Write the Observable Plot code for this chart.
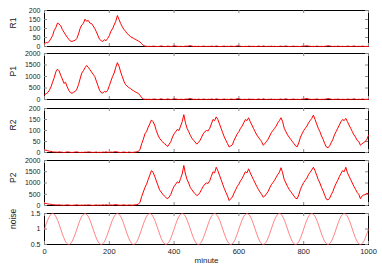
<!DOCTYPE html>
<html>
<head>
<meta charset="utf-8">
<script src="https://cdn.jsdelivr.net/npm/d3@7"></script>
<script src="https://cdn.jsdelivr.net/npm/@observablehq/plot@0.6"></script>
<style>
html,body{margin:0;padding:0;background:#fff;}
#chart{position:relative;width:382px;height:267px;overflow:hidden;}
#chart svg{position:absolute;left:0;}
</style>
</head>
<body>
<div id="chart"></div>
<script>
const xTicks = [0, 200, 400, 600, 800, 1000];
const minutes = d3.range(0, 1001, 5);
const noiseMinutes = d3.range(0, 1000.1, 12.5);

const R1 = [
15,22,20,30,45,60,90,105,130,125,
115,95,80,65,52,40,30,28,32,35,
45,70,100,120,128,152,140,145,130,128,
115,100,82,60,40,32,28,38,32,45,
60,85,98,120,140,172,150,128,110,95,
85,72,65,55,50,45,40,35,30,25,
15,6,2,1,
0,1,0,2,1,0,0,1,3,1,
0,0,2,1,0,1,4,2,1,0,
1,0,0,2,1,3,5,2,0,1,
0,1,0,0,2,1,0,1,0,2,
1,0,3,1,0,0,1,2,0,1,
0,2,1,0,1,4,3,1,0,0,
1,0,2,1,0,1,0,0,2,1,
0,3,1,0,1,0,2,0,1,0,
0,1,2,0,1,3,1,0,0,1,
2,0,1,0,0,2,1,3,4,2,
1,0,1,0,2,1,0,1,0,1,
2,4,3,1,0,1,0,2,1,0,
1,0,0,2,1,0,1,3,1,0,
1,0,2,1,0,1,0
];

const P1 = [
200,250,300,400,550,750,950,1200,1320,1250,
1050,900,700,750,550,400,300,270,320,350,
450,650,900,1150,1250,1380,1480,1400,1300,1200,
1100,1000,800,600,400,300,280,350,320,400,
600,800,1000,1150,1400,1600,1450,1200,1000,800,
650,580,520,480,420,380,330,300,260,180,
80,20,5,10,
5,10,0,15,20,5,0,10,30,10,
0,5,25,10,0,10,35,20,10,0,
10,5,0,20,10,30,45,20,5,10,
0,15,5,0,20,10,0,10,5,20,
10,0,30,10,5,0,10,20,0,10,
0,20,10,5,10,40,30,10,0,5,
10,0,20,10,5,10,0,5,20,10,
0,30,10,0,10,5,20,0,10,0,
5,10,20,0,10,30,10,0,5,10,
20,0,10,5,0,20,10,35,45,20,
10,0,10,5,20,10,0,10,5,10,
20,40,30,10,0,10,5,20,10,0,
10,5,0,20,10,5,10,30,10,0,
10,0,20,10,5,10,5
];

const R2 = [
12,10,8,6,5,3,2,2,1,3,
2,1,0,1,3,2,1,0,1,2,
3,1,0,1,0,2,1,3,2,1,
0,1,2,0,1,0,2,1,3,1,
0,2,1,3,4,2,1,0,1,2,
1,0,2,1,0,1,2,3,
5,15,40,60,85,95,115,130,148,140,
125,100,80,65,55,48,40,35,27,38,
50,70,85,95,105,100,120,140,172,135,
110,95,78,65,55,48,38,45,55,70,
85,95,100,98,110,130,150,145,162,150,
130,110,90,70,55,40,25,30,35,55,
70,85,95,110,120,135,150,145,158,140,
125,110,95,80,70,60,50,33,40,50,
60,75,90,100,110,120,135,145,158,140,
110,95,80,70,60,50,40,30,26,45,
70,85,100,110,120,135,145,155,170,150,
130,110,95,75,60,40,25,21,30,45,
60,80,95,110,125,140,150,145,155,140,
125,110,95,80,70,55,50,33,40,45,
50,60,78
];

const P2 = [
100,90,70,60,50,40,30,25,20,30,
20,15,10,20,30,20,10,5,15,20,
30,15,10,20,10,25,15,30,20,10,
5,15,25,10,20,10,30,15,35,20,
10,25,15,30,45,25,15,10,20,30,
15,10,25,20,10,20,30,40,
60,150,400,600,800,950,1150,1350,1550,1480,
1300,1100,900,700,600,500,420,350,300,380,
500,700,850,950,1050,1000,1200,1400,1780,1400,
1150,1000,800,700,600,520,440,480,580,720,
850,950,1000,980,1100,1300,1500,1450,1700,1550,
1350,1150,950,750,580,420,220,300,380,550,
700,850,950,1100,1200,1350,1500,1450,1630,1450,
1300,1150,1000,850,720,600,500,370,420,520,
620,780,920,1020,1120,1250,1380,1480,1680,1450,
1150,1000,850,720,620,520,420,320,300,480,
720,880,1020,1120,1220,1380,1480,1580,1700,1550,
1350,1150,1000,800,650,450,280,250,320,480,
620,820,980,1120,1280,1420,1550,1500,1700,1450,
1300,1150,1000,850,720,580,500,300,420,470,
480,550,500
];

const noise = [
1,1.354,1.5,1.354,1,0.646,0.5,0.646,
1,1.354,1.5,1.354,1,0.646,0.5,0.646,
1,1.354,1.5,1.354,1,0.646,0.5,0.646,
1,1.354,1.5,1.354,1,0.646,0.5,0.646,
1,1.354,1.5,1.354,1,0.646,0.5,0.646,
1,1.354,1.5,1.354,1,0.646,0.5,0.646,
1,1.354,1.5,1.354,1,0.646,0.5,0.646,
1,1.354,1.5,1.354,1,0.646,0.5,0.646,
1,1.354,1.5,1.354,1,0.646,0.5,0.646,
1,1.354,1.5,1.354,1,0.646,0.5,0.646,
1
];

const panels = [
  {label: "R1", xs: minutes, values: R1, domain: [0, 200], ticks: [0, 50, 100, 150, 200], top: 10, h: 36, width: 1, color: "#ff0000", curve: "linear"},
  {label: "P1", xs: minutes, values: P1, domain: [0, 2000], ticks: [0, 500, 1000, 1500, 2000], top: 53, h: 46, width: 1, color: "#ff0000", curve: "linear"},
  {label: "R2", xs: minutes, values: R2, domain: [0, 200], ticks: [0, 50, 100, 150, 200], top: 108, h: 44, width: 1, color: "#ff0000", curve: "linear"},
  {label: "P2", xs: minutes, values: P2, domain: [0, 2000], ticks: [0, 500, 1000, 1500, 2000], top: 160, h: 45, width: 1, color: "#ff0000", curve: "linear"},
  {label: "noise", xs: noiseMinutes, values: noise, domain: [0.5, 1.5], ticks: [0.5, 1, 1.5], top: 213, h: 31, width: 0.7, color: "#ff5050", curve: "natural", last: true}
];

const W = 382, ML = 44, MR = 14, FW = W - ML - MR;
const chart = document.getElementById("chart");
const font = "'Liberation Sans', Arial, Helvetica, sans-serif";

for (const p of panels) {
  const mt = 6, mb = p.last ? 26 : 6;
  const data = p.values.map((v, i) => ({t: p.xs[i], v}));
  const marks = [
    Plot.frame({stroke: "#000", strokeWidth: 1}),
    Plot.tickX(xTicks, {x: d => d, stroke: "#888", insetTop: p.h - 3}),
    Plot.tickX(xTicks, {x: d => d, stroke: "#888", insetBottom: p.h - 3}),
    Plot.tickY(p.ticks, {y: d => d, stroke: "#888", insetRight: FW - 3}),
    Plot.tickY(p.ticks, {y: d => d, stroke: "#888", insetLeft: FW - 3}),
    Plot.line(data, {x: "t", y: "v", stroke: p.color, strokeWidth: p.width, curve: p.curve}),
    Plot.axisY({ticks: p.ticks, tickSize: 0, tickPadding: 4, label: null, tickFormat: d => String(d), fill: "#222", fontSize: 7}),
    Plot.text([p.label], {frameAnchor: "left", dx: -31, rotate: -90, text: d => d, fontSize: 8.5, fill: "#222"})
  ];
  if (p.last) {
    marks.push(Plot.axisX({ticks: xTicks, tickSize: 0, tickPadding: 4, label: null, tickFormat: d => String(d), fill: "#222", fontSize: 7.5}));
    marks.push(Plot.text(["minute"], {frameAnchor: "bottom", dy: 18, text: d => d, fontSize: 8, fill: "#222"}));
  }
  const svg = Plot.plot({
    width: W,
    height: p.h + mt + mb,
    marginLeft: ML, marginRight: MR, marginTop: mt, marginBottom: mb,
    x: {domain: [0, 1000], axis: null},
    y: {domain: p.domain, axis: null},
    style: {fontFamily: font, fontSize: "8px", background: "transparent", overflow: "visible"},
    marks
  });
  svg.style.top = (p.top - mt) + "px";
  chart.appendChild(svg);
}
</script>
</body>
</html>
